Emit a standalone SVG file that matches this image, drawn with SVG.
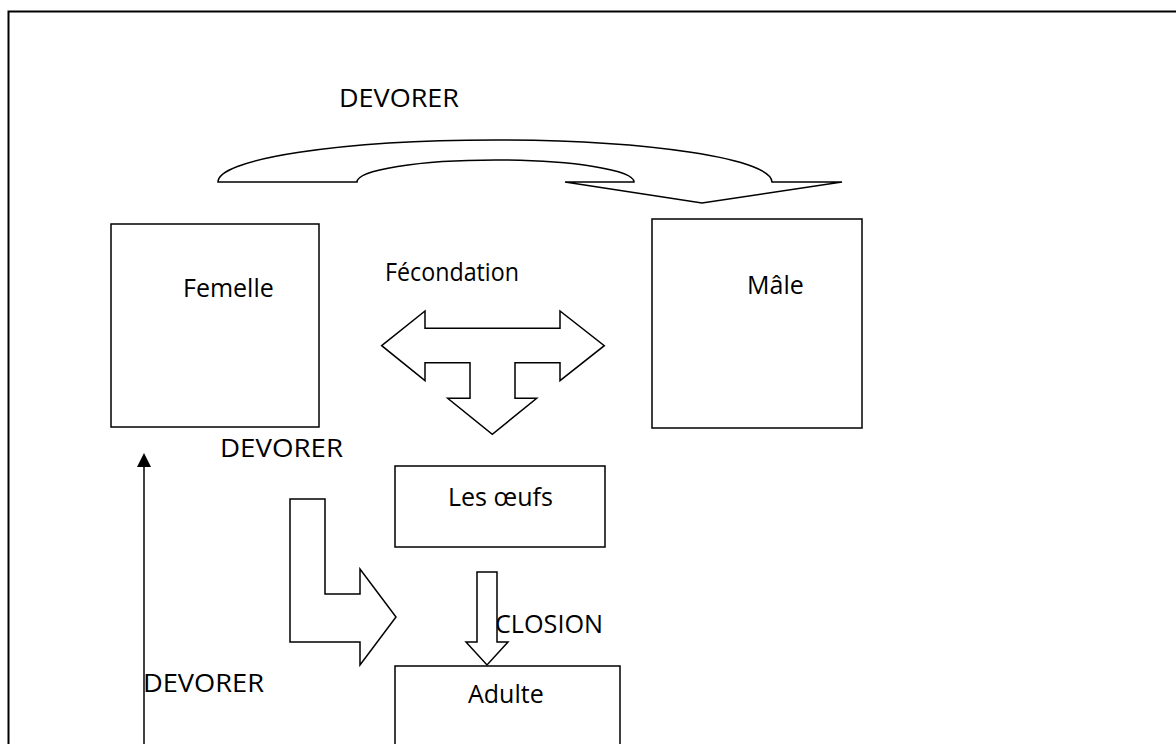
<svg xmlns="http://www.w3.org/2000/svg" width="1176" height="744" viewBox="0 0 1176 744">
<style>
.box{fill:#fff;stroke:#000;stroke-width:1.5}
.shape{fill:#fff;stroke:#000;stroke-width:1.5;stroke-linejoin:miter}
.t{font-family:"Open Sans","Liberation Sans",sans-serif;font-size:25px;fill:#000}
</style>
<rect width="1176" height="744" fill="#fff"/>
<rect x="8.5" y="11.5" width="1200" height="800" fill="none" stroke="#000" stroke-width="2"/>
<text class="t" x="339" y="107" textLength="120" lengthAdjust="spacingAndGlyphs">DEVORER</text>
<text class="t" x="385" y="281" textLength="134" lengthAdjust="spacingAndGlyphs">Fécondation</text>
<text class="t" x="220" y="457" textLength="123" lengthAdjust="spacingAndGlyphs">DEVORER</text>
<text class="t" x="143" y="692" textLength="121" lengthAdjust="spacingAndGlyphs">DEVORER</text>
<text class="t" x="481" y="633" textLength="122" lengthAdjust="spacingAndGlyphs">ÉCLOSION</text>
<g id="femelle"><rect class="box" x="111" y="224" width="208" height="203"/><text class="t" x="183" y="297">Femelle</text></g>
<g id="male"><rect class="box" x="652" y="219" width="210" height="209"/><text class="t" x="747" y="294">Mâle</text></g>
<g id="oeufs"><rect class="box" x="395" y="466" width="210" height="81"/><text class="t" x="448" y="506">Les œufs</text></g>
<g id="adulte"><rect class="box" x="395" y="666" width="225" height="120"/><text class="t" x="468" y="703">Adulte</text></g>
<g id="connectors">
<path class="shape" d="M218,182 H357 A138.5,22 0 0 1 634,182 H565 L702,203 L842,182 H772 A277,42 0 0 0 218,182 Z"/>
<path class="shape" d="M381.7,345.7 L425,311 V328.3 H560 V311 L604.3,345.7 L560,380.7 V362.7 H515 V398.3 H536.7 L492.3,434.3 L447.7,398.3 H470 V362.7 H425 V380.7 Z"/>
<path class="shape" d="M290,499 H325 V594 H360 V569 L396,617 L360,665 V642 H290 Z"/>
<path class="shape" d="M477,572 H497 V642 H508 L487,665 L466,642 H477 Z"/>
<line x1="144" y1="466" x2="144" y2="750" stroke="#000" stroke-width="1.5"/>
<polygon points="144,453 137,467 151,467" fill="#000"/>
</g>
</svg>
